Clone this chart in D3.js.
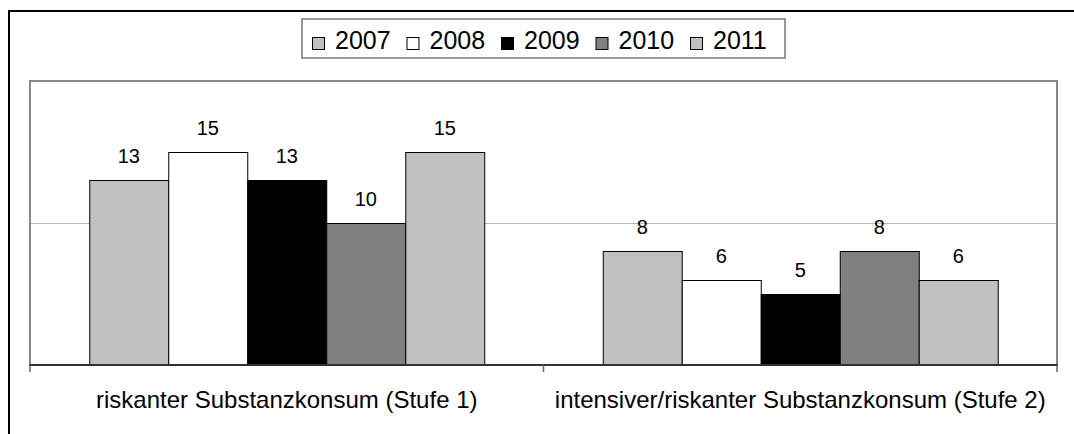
<!DOCTYPE html>
<html>
<head>
<meta charset="utf-8">
<title>Substanzkonsum</title>
<style>
  body { margin: 0; background: white; }
  svg { display: block; font-family: "Liberation Sans", Arial, Helvetica, sans-serif; }
</style>
<script src="https://d3js.org/d3.v7.min.js"></script>
</head>
<body>
<div id="chart"></div>
<script>
// data
var categories = ["riskanter Substanzkonsum (Stufe 1)", "intensiver/riskanter Substanzkonsum (Stufe 2)"];
var years = ["2007", "2008", "2009", "2010", "2011"];
var values = [
    [13, 15, 13, 10, 15],
    [8, 6, 5, 8, 6]
];
var yearColors = ["#c0c0c0", "#ffffff", "#000000", "#808080", "#c0c0c0"];
var yTicks = [0, 10, 20];

var width = 1074, height = 434;
var plot = {left: 30, right: 1057, top: 81, bottom: 365};

var svg = d3.select("#chart").append("svg")
    .attr("width", width)
    .attr("height", height);

// outer chart frame (runs off the right / bottom edge)
svg.append("rect")
    .attr("x", 9).attr("y", 11)
    .attr("width", 1100).attr("height", 500)
    .attr("fill", "white")
    .attr("stroke", "#000").attr("stroke-width", 2);

var x0 = d3.scaleBand()
    .domain(categories)
    .range([plot.left, plot.right])
    .padding(0);

var x1 = d3.scaleBand()
    .domain(years)
    .range([0, x0.bandwidth()])
    .paddingInner(0)
    .paddingOuter(0.75);

var y = d3.scaleLinear()
    .domain([0, 20])
    .range([plot.bottom, plot.top]);

// gridlines
svg.append("g")
    .selectAll("line")
    .data(yTicks.filter(function(d) { return d > 0 && d < 20; }))
    .enter().append("line")
    .attr("x1", plot.left).attr("x2", plot.right)
    .attr("y1", function(d) { return y(d) + 0.5; })
    .attr("y2", function(d) { return y(d) + 0.5; })
    .attr("stroke", "#b8b8b8").attr("stroke-width", 1);

// plot area border (gray)
svg.append("path")
    .attr("d", "M" + plot.left + "," + plot.bottom + "V" + y(20) + "H" + plot.right + "V" + plot.bottom)
    .attr("fill", "none")
    .attr("stroke", "#888").attr("stroke-width", 2);

// bars
var groups = svg.append("g").selectAll("g")
    .data(categories)
    .enter().append("g")
    .attr("transform", function(d) { return "translate(" + x0(d) + ",0)"; });

groups.selectAll("rect")
    .data(function(d, i) { return values[i].map(function(v, j) { return {year: years[j], value: v, idx: j}; }); })
    .enter().append("rect")
    .attr("x", function(d) { return x1(d.year) + 0.5; })
    .attr("y", function(d) { return Math.round(y(d.value)) + 0.5; })
    .attr("width", x1.bandwidth())
    .attr("height", function(d) { return plot.bottom - Math.round(y(d.value)); })
    .attr("fill", function(d) { return yearColors[d.idx]; })
    .attr("stroke", "#000").attr("stroke-width", 1);

groups.selectAll("text")
    .data(function(d, i) { return values[i].map(function(v, j) { return {year: years[j], value: v}; }); })
    .enter().append("text")
    .attr("x", function(d) { return x1(d.year) + x1.bandwidth() / 2; })
    .attr("y", function(d) { return y(d.value) - 17; })
    .attr("text-anchor", "middle")
    .attr("font-size", 20)
    .attr("fill", "#000")
    .text(function(d) { return d.value; });

// x axis
var xAxis = svg.append("g");
xAxis.append("line")
    .attr("x1", plot.left - 1).attr("x2", plot.right + 1)
    .attr("y1", plot.bottom).attr("y2", plot.bottom)
    .attr("stroke", "#333").attr("stroke-width", 2);
var tickPos = categories.map(function(c) { return x0(c); }).concat([plot.right]);
xAxis.selectAll(".tick")
    .data(tickPos)
    .enter().append("line")
    .attr("x1", function(d) { return d; }).attr("x2", function(d) { return d; })
    .attr("y1", plot.bottom).attr("y2", plot.bottom + 7)
    .attr("stroke", "#666").attr("stroke-width", 1.5);
xAxis.selectAll("text")
    .data(categories)
    .enter().append("text")
    .attr("x", function(d) { return x0(d) + x0.bandwidth() / 2; })
    .attr("y", 408)
    .attr("text-anchor", "middle")
    .attr("font-size", 24)
    .attr("fill", "#000")
    .text(function(d) { return d; });

// legend
var legend = svg.append("g");
legend.append("rect")
    .attr("x", 302).attr("y", 19)
    .attr("width", 483).attr("height", 39)
    .attr("fill", "white")
    .attr("stroke", "#777").attr("stroke-width", 1.5);
var items = legend.selectAll("g.item")
    .data(years)
    .enter().append("g")
    .attr("class", "item")
    .attr("transform", function(d, i) { return "translate(" + (312 + i * 94.5) + ",0)"; });
items.append("rect")
    .attr("x", 0.5).attr("y", 37.5)
    .attr("width", 12).attr("height", 12)
    .attr("fill", function(d, i) { return yearColors[i]; })
    .attr("stroke", "#000").attr("stroke-width", 1);
items.append("text")
    .attr("x", 23).attr("y", 48.5)
    .attr("font-size", 25)
    .attr("fill", "#000")
    .text(function(d) { return d; });
</script>
</body>
</html>
